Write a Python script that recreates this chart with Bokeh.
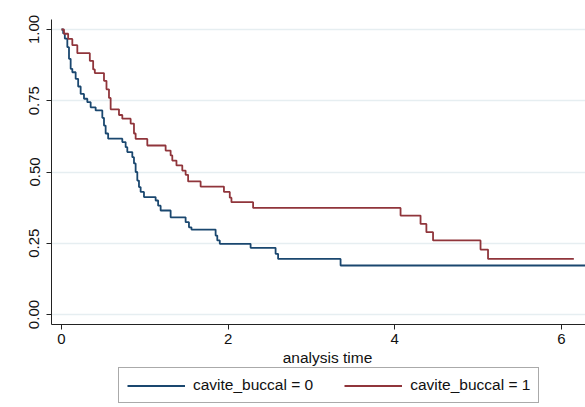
from bokeh.plotting import figure
from bokeh.layouts import column
from bokeh.models import (Range1d, FixedTicker, Legend, LegendItem, Label)
from bokeh.embed import file_html
from bokeh.resources import INLINE

# Kaplan-Meier estimates (time, survival)
time_0 = [0, 0.02, 0.04, 0.07, 0.09, 0.11, 0.13, 0.17, 0.20, 0.23, 0.27, 0.31, 0.35,
          0.41, 0.49, 0.51, 0.53, 0.56, 0.73, 0.77, 0.79, 0.85, 0.87, 0.89, 0.91,
          0.93, 0.95, 0.99, 1.13, 1.16, 1.19, 1.31, 1.49, 1.53, 1.56, 1.85, 1.87,
          1.90, 2.27, 2.57, 2.60, 3.35, 6.5]
surv_0 = [1.0, 0.986, 0.968, 0.938, 0.897, 0.862, 0.85, 0.827, 0.80, 0.774, 0.757, 0.745, 0.727,
          0.716, 0.69, 0.663, 0.635, 0.617, 0.605, 0.587, 0.57, 0.552, 0.53, 0.50, 0.47,
          0.447, 0.43, 0.412, 0.40, 0.382, 0.365, 0.341, 0.324, 0.306, 0.298, 0.277, 0.26,
          0.248, 0.234, 0.213, 0.195, 0.172, 0.172]

time_1 = [0, 0.03, 0.08, 0.13, 0.19, 0.34, 0.38, 0.40, 0.51, 0.54, 0.57, 0.59, 0.69,
          0.73, 0.83, 0.87, 0.89, 1.03, 1.25, 1.31, 1.33, 1.38, 1.45, 1.49, 1.52,
          1.67, 1.95, 2.02, 2.04, 2.30, 4.07, 4.31, 4.38, 4.46, 5.03, 5.12, 6.15]
surv_1 = [1.0, 0.985, 0.967, 0.945, 0.917, 0.89, 0.86, 0.847, 0.82, 0.79, 0.76, 0.72, 0.70,
          0.687, 0.67, 0.635, 0.616, 0.593, 0.575, 0.558, 0.54, 0.523, 0.505, 0.49, 0.467,
          0.449, 0.43, 0.41, 0.394, 0.374, 0.347, 0.318, 0.289, 0.26, 0.228, 0.195, 0.195]

x_ticks = [0, 2, 4, 6]
y_ticks = [0, 0.25, 0.5, 0.75, 1.0]
y_tick_labels = ["0.00", "0.25", "0.50", "0.75", "1.00"]
series_labels = ["cavite_buccal = 0", "cavite_buccal = 1"]
x_title = "analysis time"

BLUE = "#1a476f"
RED = "#90353b"
FONT = "Liberation Sans"

# ---- main plot ----
p = figure(frame_width=534, frame_height=305, output_backend="svg", toolbar_location=None,
           x_range=Range1d(-0.12, 6.29), y_range=Range1d(-0.035, 1.035),
           min_border_left=51, min_border_right=0, min_border_top=19,
           min_border_bottom=0)
p.outline_line_color = None
p.background_fill_color = "white"
p.border_fill_color = "white"

p.step(time_0, surv_0, mode="after", line_color=BLUE, line_width=1.8)
p.step(time_1, surv_1, mode="after", line_color=RED, line_width=1.8)

p.xgrid.grid_line_color = None
p.ygrid.grid_line_color = "#e6eef1"
p.ygrid.grid_line_width = 1.5
p.ygrid.ticker = FixedTicker(ticks=y_ticks)

p.xaxis.ticker = FixedTicker(ticks=x_ticks)
p.yaxis.ticker = FixedTicker(ticks=y_ticks)
p.yaxis.major_label_overrides = {t: l for t, l in zip(y_ticks, y_tick_labels)}
p.yaxis.major_label_orientation = "vertical"

for ax in (p.xaxis, p.yaxis):
    ax.axis_line_color = "#222222"
    ax.major_tick_line_color = "#222222"
    ax.major_tick_out = 5
    ax.major_tick_in = 0
    ax.minor_tick_line_color = None
    ax.major_label_text_font = FONT
    ax.major_label_text_font_size = "15px"
    ax.major_label_text_color = "#111111"
p.xaxis.major_label_standoff = 4
p.yaxis.major_label_standoff = 7

# ---- strip below the plot: axis title and legend (page-pixel coordinates) ----
p2 = figure(width=585, height=58, output_backend="svg", toolbar_location=None,
            x_range=Range1d(51, 585), y_range=Range1d(58, 0),
            x_axis_type=None, y_axis_type=None,
            min_border_left=51, min_border_right=0, min_border_top=0, min_border_bottom=0)
p2.outline_line_color = None
p2.xgrid.grid_line_color = None
p2.ygrid.grid_line_color = None
p2.background_fill_color = "white"
p2.border_fill_color = "white"

p2.add_layout(Label(x=327, y=11, text=x_title, text_align="center",
                    text_baseline="middle", text_font=FONT, text_font_size="15.5px",
                    text_color="#111111"))

# off-screen proxies so the legend shows line samples
d0 = p2.line([-100, -90], [-100, -90], line_color=BLUE, line_width=1.8)
d1 = p2.line([-100, -90], [-100, -90], line_color=RED, line_width=1.8)
legend = Legend(items=[LegendItem(label=series_labels[0], renderers=[d0]),
                       LegendItem(label=series_labels[1], renderers=[d1])],
                orientation="horizontal", location=(67, 1),
                label_text_font=FONT, label_text_font_size="15.5px",
                label_text_color="#111111",
                glyph_width=58, glyph_height=17, label_height=17,
                label_standoff=8, spacing=31, padding=8,
                margin=0, border_line_color="#555555", border_line_width=1,
                background_fill_color="white", background_fill_alpha=1.0)
p2.add_layout(legend, "center")

layout = column(p, p2, spacing=0)
open("out.html", "w").write(file_html(layout, INLINE))
